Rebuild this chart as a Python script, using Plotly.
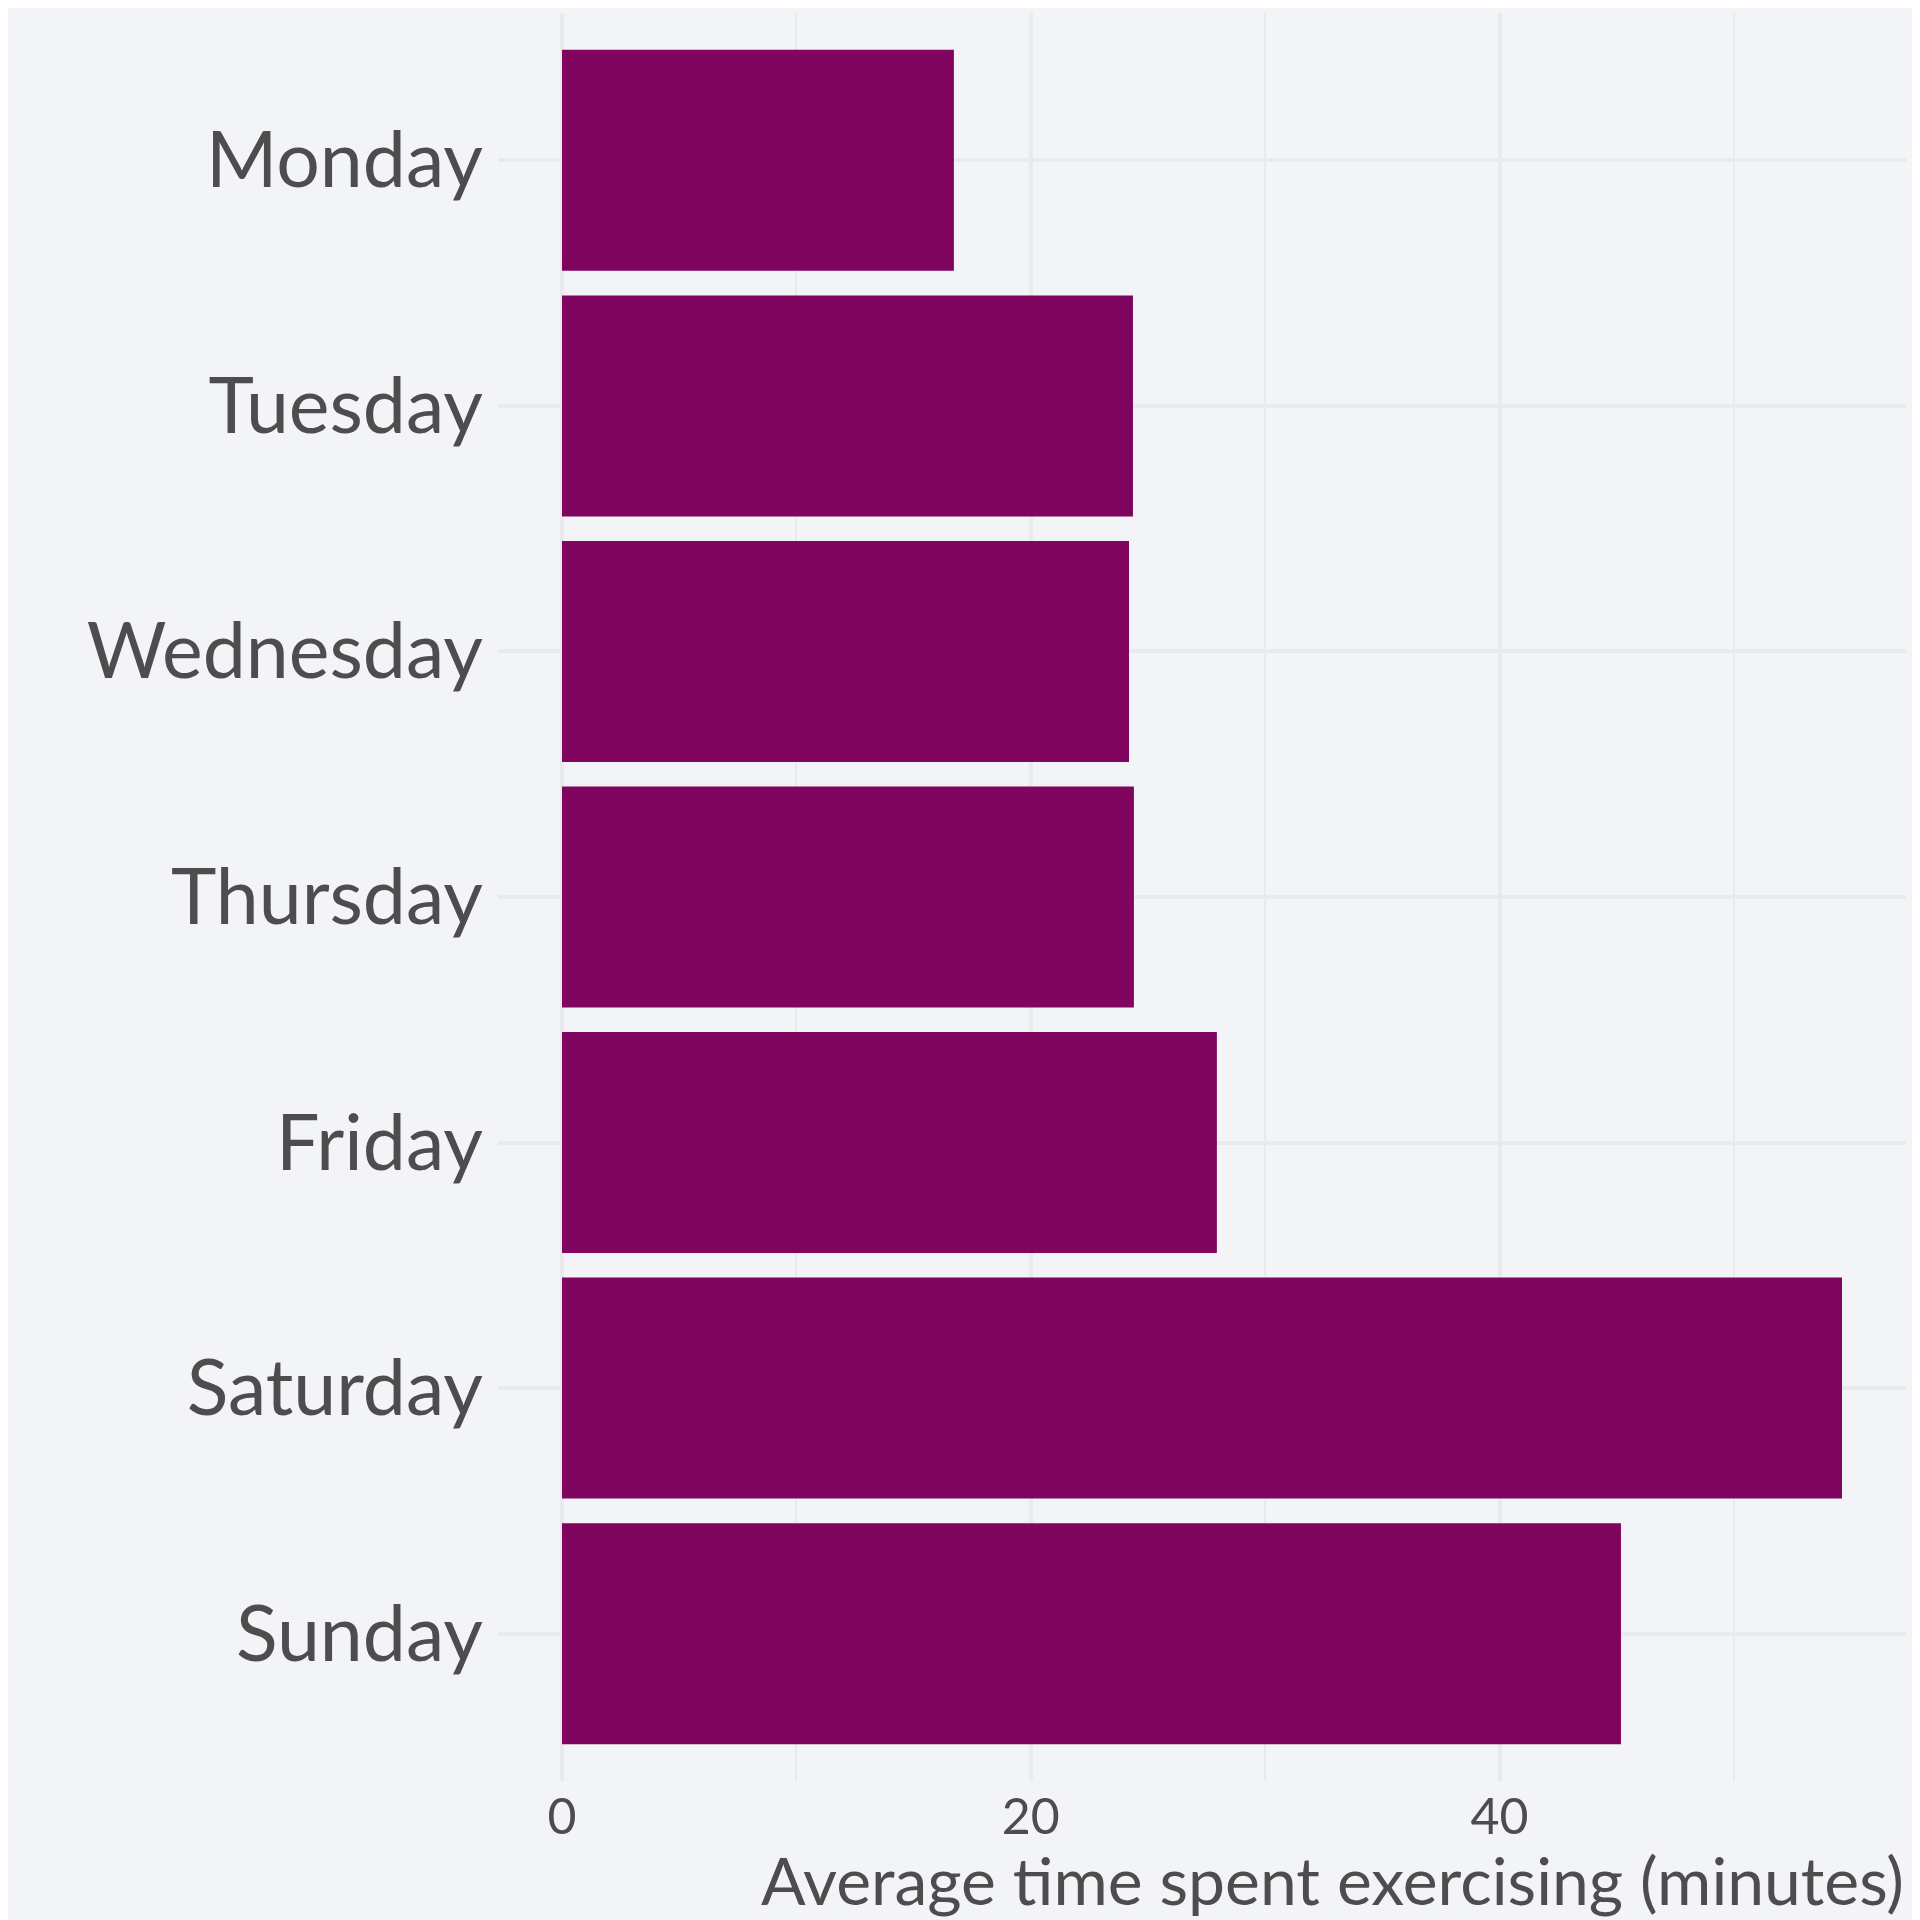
import plotly.graph_objects as go

days = ["Monday", "Tuesday", "Wednesday", "Thursday", "Friday", "Saturday", "Sunday"]
minutes = [16.72, 24.36, 24.19, 24.40, 27.94, 54.61, 45.18]
x_ticks = [0, 20, 40]
x_title = "Average time spent exercising (minutes)"

BG = "#f3f4f8"
GRID = "#e9eaec"
TEXT = "#4d4d4d"
BAR = "#7f055f"
FONT = "Lato"

fig = go.Figure(go.Bar(
    x=minutes, y=days, orientation="h",
    marker=dict(color=BAR, line=dict(width=0)),
    width=0.9,
))

xmax = max(minutes)
fig.update_layout(
    width=1920, height=1920,
    paper_bgcolor=BG, plot_bgcolor=BG,
    margin=dict(l=490, r=22, t=5, b=147),
    showlegend=False,
    font=dict(family=FONT, color=TEXT),
    xaxis=dict(
        range=[-0.05 * xmax, 1.05 * xmax],
        tickvals=x_ticks, ticktext=[str(v) for v in x_ticks],
        showgrid=True, gridcolor=GRID, gridwidth=4,
        minor=dict(dtick=10, tick0=0, showgrid=True, gridcolor=GRID, gridwidth=2),
        zeroline=False, showline=False, ticks="",
        tickfont=dict(size=50, color=TEXT, family=FONT),
        ticklabelstandoff=2,
    ),
    yaxis=dict(
        categoryorder="array", categoryarray=days,
        range=[len(days) - 0.4, -0.6],
        showgrid=True, gridcolor=GRID, gridwidth=4,
        zeroline=False, showline=False, ticks="",
        tickfont=dict(size=77, color=TEXT, family=FONT),
        ticklabelstandoff=14,
    ),
    annotations=[dict(
        text=x_title, xref="paper", yref="paper",
        x=1, y=-0.0555, xanchor="right", yanchor="middle",
        showarrow=False, font=dict(size=66, color=TEXT, family=FONT),
    )],
)

fig.write_html("out.html")
